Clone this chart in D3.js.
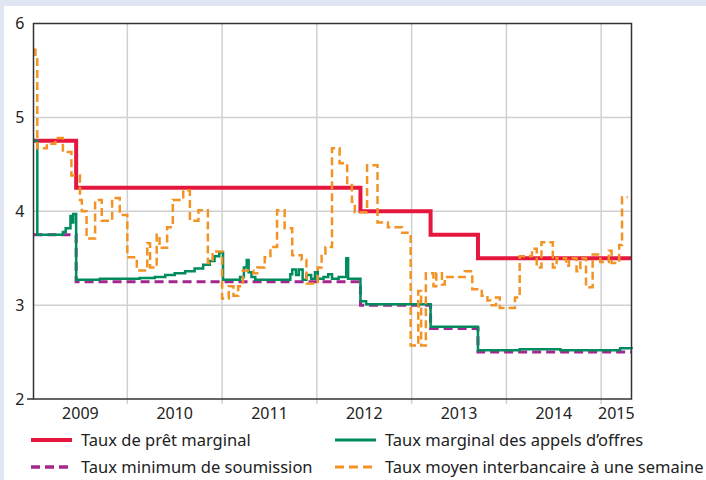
<!DOCTYPE html>
<meta charset="utf-8">
<head>
<style>
body { margin: 0; background: #fff; }
text { font-family: "Noto Sans", "Open Sans", sans-serif; fill: #222; }
.grid { stroke: #d0d0d0; stroke-width: 1.5px; }
.frame { fill: none; stroke: #333; stroke-width: 1.5px; }
</style>
</head>
<body>
<script src="https://d3js.org/d3.v7.min.js"></script>
<script>

// years as decimal values, rates in %
var yearTicks = [2010, 2011, 2012, 2013, 2014, 2015];
var yearLabels = ["2009", "2010", "2011", "2012", "2013", "2014", "2015"];
var rateTicks = [2, 3, 4, 5, 6];

// Taux de prêt marginal
var pretT = [2009.01, 2009.46, 2012.46, 2013.20, 2013.70, 2015.32];
var pretV = [4.75, 4.25, 4.00, 3.75, 3.50, 3.50];

// Taux minimum de soumission
var minT = [2009.01, 2009.46, 2012.46, 2013.20, 2013.70, 2015.32];
var minV = [3.75, 3.25, 3.00, 2.75, 2.50, 2.50];

// Taux marginal des appels d'offres
var margT = [2009.01, 2009.05, 2009.32, 2009.35, 2009.40, 2009.42, 2009.43, 2009.46,
  2009.71, 2010.13, 2010.29, 2010.40, 2010.50, 2010.61, 2010.71, 2010.80, 2010.87, 2010.92, 2010.97,
  2011.01, 2011.19, 2011.23, 2011.26, 2011.28, 2011.31, 2011.35, 2011.72, 2011.74, 2011.78, 2011.81,
  2011.85, 2011.89, 2011.94, 2011.98, 2012.01, 2012.07, 2012.12, 2012.16, 2012.23, 2012.31, 2012.33,
  2012.46, 2012.52, 2013.20, 2013.70, 2014.14, 2014.57, 2015.20, 2015.32];
var margV = [4.75, 3.75, 3.78, 3.82, 3.95, 3.88, 3.97, 3.27,
  3.28, 3.29, 3.30, 3.32, 3.34, 3.36, 3.39, 3.43, 3.47, 3.52, 3.56,
  3.27, 3.30, 3.40, 3.48, 3.35, 3.30, 3.27, 3.33, 3.38, 3.32, 3.38,
  3.27, 3.32, 3.28, 3.35, 3.28, 3.30, 3.33, 3.28, 3.30, 3.50, 3.28,
  3.04, 3.01, 2.77, 2.52, 2.53, 2.52, 2.54, 2.53];

// Taux moyen interbancaire à une semaine
var interT = [2009.01, 2009.03, 2009.05, 2009.15, 2009.24, 2009.32, 2009.41, 2009.50, 2009.52, 2009.57,
  2009.66, 2009.73, 2009.84, 2009.92, 2010.00, 2010.10, 2010.21, 2010.24, 2010.31, 2010.34,
  2010.42, 2010.48, 2010.59, 2010.66, 2010.75, 2010.85, 2010.90, 2011.00, 2011.07, 2011.12,
  2011.17, 2011.22, 2011.33, 2011.37, 2011.45, 2011.51, 2011.58, 2011.66, 2011.74, 2011.84,
  2011.89, 2012.01, 2012.05, 2012.09, 2012.16, 2012.24, 2012.32, 2012.37, 2012.40, 2012.53,
  2012.64, 2012.75, 2012.90, 2012.99, 2013.07, 2013.10, 2013.15, 2013.23, 2013.26, 2013.32,
  2013.35, 2013.41, 2013.56, 2013.64, 2013.74, 2013.80, 2013.83, 2013.89, 2013.93, 2014.09,
  2014.14, 2014.27, 2014.32, 2014.37, 2014.49, 2014.53, 2014.63, 2014.66, 2014.74, 2014.78,
  2014.84, 2014.91, 2014.99, 2015.08, 2015.11, 2015.19, 2015.22, 2015.28];
var interV = [5.72, 5.62, 4.67, 4.72, 4.78, 4.63, 4.38, 4.12, 4.00, 3.71,
  4.12, 3.90, 4.14, 3.96, 3.51, 3.37, 3.66, 3.40, 3.75, 3.61,
  3.83, 4.12, 4.22, 3.90, 4.01, 3.45, 3.57, 3.07, 3.20, 3.10,
  3.20, 3.37, 3.34, 3.40, 3.51, 3.62, 4.01, 3.82, 3.53, 3.48,
  3.23, 3.40, 3.55, 3.62, 4.67, 4.51, 4.28, 4.10, 3.99, 4.49,
  3.88, 3.83, 3.77, 2.57, 3.15, 2.57, 3.34, 3.20, 3.34, 3.22,
  3.30, 3.30, 3.36, 3.17, 3.10, 3.05, 3.00, 3.08, 2.97, 3.08,
  3.52, 3.60, 3.40, 3.67, 3.40, 3.50, 3.42, 3.50, 3.36, 3.50,
  3.19, 3.54, 3.46, 3.58, 3.45, 3.64, 4.15, 4.15];

var svg = d3.select("body").append("svg")
    .attr("width", 706)
    .attr("height", 480);

// light blue page border
svg.append("rect").attr("x", 0).attr("y", 0).attr("width", 706).attr("height", 6).attr("fill", "#dfe5f1");
svg.append("rect").attr("x", 0).attr("y", 0).attr("width", 4).attr("height", 480).attr("fill", "#dfe5f1");

var x = d3.scaleLinear()
  .domain([2009.01, 2015.32])
  .range([33.5, 631.5]);

var y = d3.scaleLinear()
  .domain([2, 6])
  .range([399, 23.5]);

// grid lines
svg.append("g")
  .selectAll("line")
  .data(yearTicks)
  .enter().append("line")
    .attr("class", "grid")
    .attr("x1", function(d) { return x(d); })
    .attr("x2", function(d) { return x(d); })
    .attr("y1", y(6))
    .attr("y2", y(2) + 5);

svg.append("g")
  .selectAll("line")
  .data([3, 4, 5])
  .enter().append("line")
    .attr("class", "grid")
    .attr("x1", x.range()[0])
    .attr("x2", x.range()[1])
    .attr("y1", function(d) { return y(d); })
    .attr("y2", function(d) { return y(d); });

// y labels
var yAxis = svg.append("g")
    .attr("transform", "translate(" + x.range()[0] + ",0)")
    .call(d3.axisLeft(y).tickValues(rateTicks).tickSize(0).tickPadding(9).tickFormat(d3.format("d")));
yAxis.select(".domain").remove();
yAxis.selectAll("text").style("font-size", "16px").attr("fill", "#222")
  .style("font-family", "Noto Sans");

// x labels centred in each year
var bounds = [x.domain()[0]].concat(yearTicks).concat([x.domain()[1]]);
svg.append("g")
  .selectAll("text")
  .data(yearLabels)
  .enter().append("text")
    .attr("x", function(d, i) { return (x(bounds[i]) + x(bounds[i + 1])) / 2; })
    .attr("y", 419)
    .attr("text-anchor", "middle")
    .style("font-size", "16px")
    .text(function(d) { return d; });

function series(t, v) {
  return t.map(function(d, i) { return [d, v[i]]; });
}

var line = d3.line()
  .curve(d3.curveStepAfter)
  .x(function(d) { return x(d[0]); })
  .y(function(d) { return y(d[1]); });

svg.append("path")
  .datum(series(pretT, pretV))
  .attr("d", line)
  .attr("fill", "none")
  .attr("stroke", "#e5173f")
  .attr("stroke-width", 4);

svg.append("path")
  .datum(series(minT, minV))
  .attr("d", line)
  .attr("fill", "none")
  .attr("stroke", "#a3278f")
  .attr("stroke-width", 3)
  .attr("stroke-dasharray", "9,5");

svg.append("path")
  .datum(series(margT, margV))
  .attr("d", line)
  .attr("fill", "none")
  .attr("stroke", "#008c5f")
  .attr("stroke-width", 2.5);

svg.append("path")
  .datum(series(interT, interV))
  .attr("d", line)
  .attr("fill", "none")
  .attr("stroke", "#f39325")
  .attr("stroke-width", 2.5)
  .attr("stroke-dasharray", "8,4");

// plot frame
svg.append("rect")
  .attr("class", "frame")
  .attr("x", x.range()[0])
  .attr("y", y(6))
  .attr("width", x.range()[1] - x.range()[0])
  .attr("height", y(2) - y(6));
svg.append("line")
  .attr("x1", 27).attr("x2", x.range()[0])
  .attr("y1", y(2)).attr("y2", y(2))
  .attr("stroke", "#333").attr("stroke-width", 1.5);

// legend
var legendNames = ["Taux de prêt marginal", "Taux marginal des appels d\u2019offres",
  "Taux minimum de soumission", "Taux moyen interbancaire à une semaine"];
var legendColors = ["#e5173f", "#008c5f", "#a3278f", "#f39325"];
var legendDash = [null, null, "9,5", "9,5"];
var legendWidth = [4, 3, 3.5, 3];

var leg = svg.append("g");
legendNames.forEach(function(name, i) {
  var lx = (i % 2 === 0) ? 31 : 335;
  var ly = (i < 2) ? 440 : 467;
  leg.append("line")
    .attr("x1", lx).attr("x2", lx + 41)
    .attr("y1", ly).attr("y2", ly)
    .attr("stroke", legendColors[i])
    .attr("stroke-width", legendWidth[i])
    .attr("stroke-dasharray", legendDash[i]);
  leg.append("text")
    .attr("x", lx + 50)
    .attr("y", ly + 6)
    .style("font-size", "16.5px")
    .text(name);
});

</script>
</body>
